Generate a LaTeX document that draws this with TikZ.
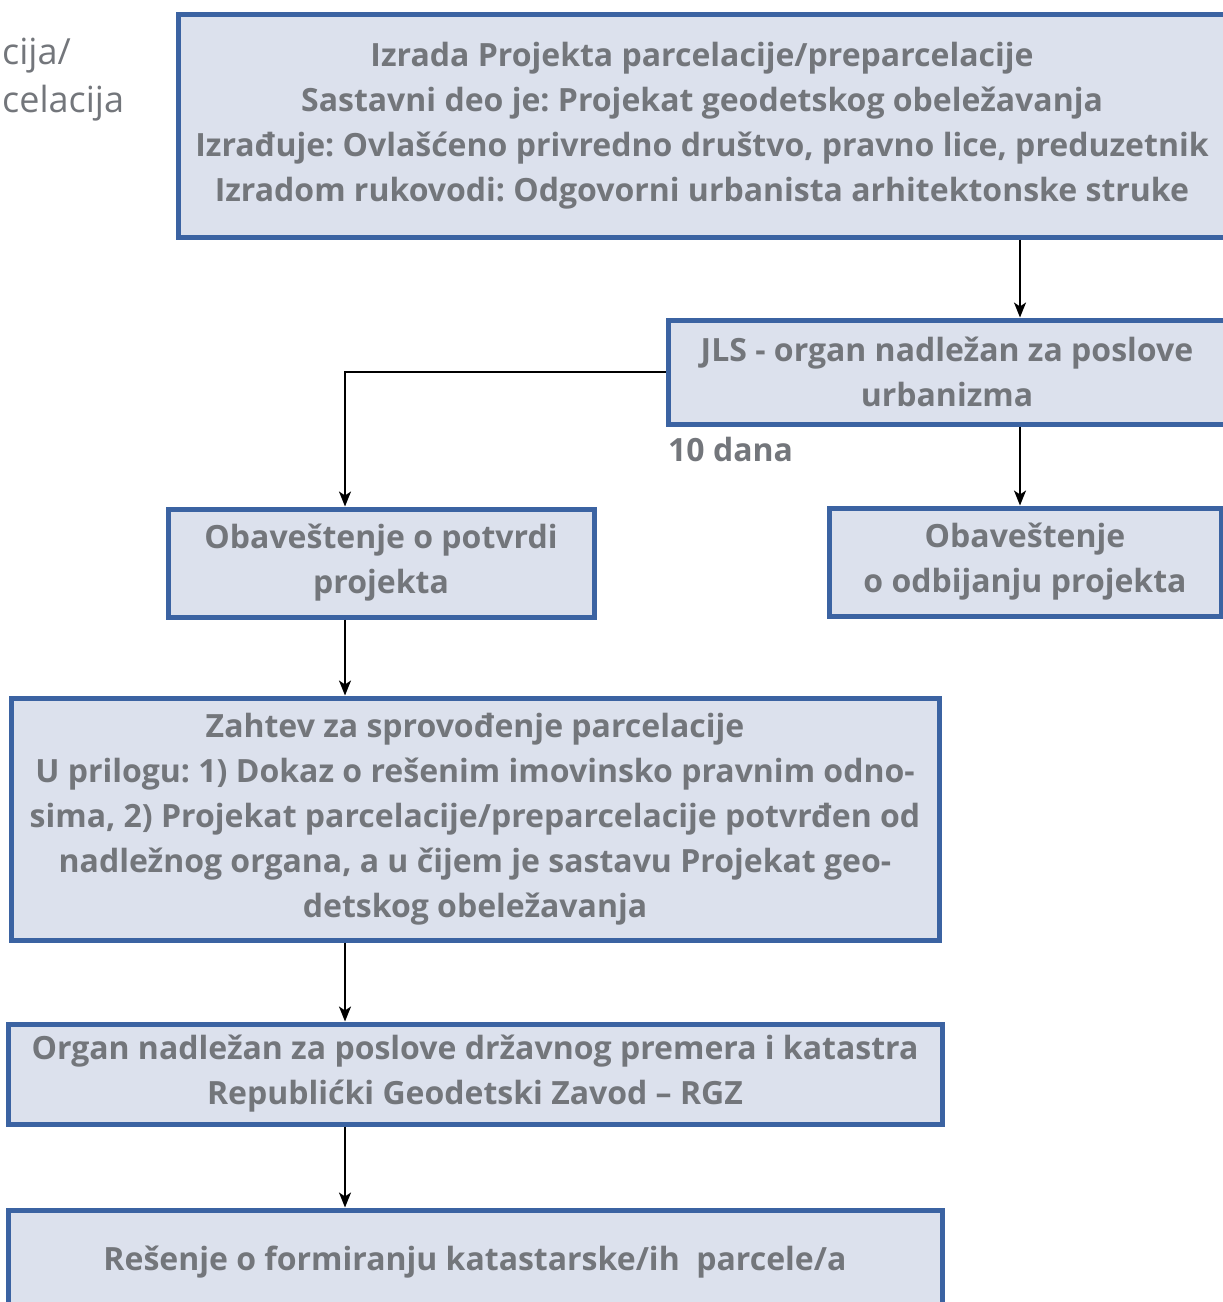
\documentclass[tikz,border=0pt]{standalone}
\usepackage{fontspec}
\setmainfont{Open Sans}
\frenchspacing
\usetikzlibrary{arrows.meta,positioning}
\definecolor{boxblue}{HTML}{3B63A2}
\definecolor{boxfill}{HTML}{DCE1ED}
\definecolor{textgray}{HTML}{73767B}
\newcommand{\boxfont}{\fontsize{32}{45}\selectfont\bfseries}
\tikzset{
  stepbox/.style={draw=boxblue,line width=5pt,fill=boxfill,text=textgray,
    font=\boxfont,align=center,inner sep=0pt},
  flowarrow/.style={-{Stealth[length=15pt,width=12pt,inset=4pt]},line width=2pt},
  flowline/.style={line width=2pt}
}

\begin{document}
\begin{tikzpicture}[x=1pt,y=1pt]
  \useasboundingbox (0,0) rectangle (1223,-1302);
  \clip (0,0) rectangle (1223,-1302);
  \node[text=textgray,font=\fontsize{36}{48}\selectfont,align=left,
        anchor=west,inner sep=0pt] (prev) at (2,-80) {cija/\\celacija};
  \node[stepbox,minimum width=1048pt,minimum height=223pt] (plan) at (702,-125.5)
    {Izrada Projekta parcelacije/preparcelacije\\
     Sastavni deo je: Projekat geodetskog obeležavanja\\
     Izrađuje: Ovlašćeno privredno društvo, pravno lice, preduzetnik\\
     Izradom rukovodi: Odgovorni urbanista arhitektonske struke};
  \node[stepbox,minimum width=558pt,minimum height=104pt] (jls) at (947,-372)
    {JLS - organ nadležan za poslove\\urbanizma};
  \node[text=textgray,font=\boxfont,anchor=west,inner sep=0pt] (rok) at (668,-449)
    {10 dana};
  \node[stepbox,minimum width=426pt,minimum height=108pt] (potvrda) at (381,-563)
    {Obaveštenje o potvrdi\\projekta};
  \node[stepbox,minimum width=392pt,minimum height=108pt] (odbij) at (1025,-562)
    {Obaveštenje\\o odbijanju projekta};
  \node[stepbox,minimum width=928pt,minimum height=242pt] (zahtev) at (475,-819)
    {Zahtev za sprovođenje parcelacije\\
     U prilogu: 1) Dokaz o rešenim imovinsko pravnim odno-\\
     sima, 2) Projekat parcelacije/preparcelacije potvrđen od\\
     nadležnog organa, a u čijem je sastavu Projekat geo-\\
     detskog obeležavanja};
  \node[stepbox,minimum width=934pt,minimum height=100pt] (organ) at (475,-1074)
    {Organ nadležan za poslove državnog premera i katastra\\
     Republićki Geodetski Zavod – RGZ};
  \node[stepbox,minimum width=934pt,minimum height=104pt] (resenje) at (475,-1262)
    {Rešenje o formiranju katastarske/ih\ \ parcele/a};
  \coordinate (leftcol) at (345,0);
  \coordinate (rightcol) at (1020,0);
  % connectors
  \draw[flowarrow] (plan.south -| rightcol) -- (jls.north -| rightcol);
  \draw[flowarrow] (jls.south -| rightcol) -- (odbij.north -| rightcol);
  \draw[flowarrow] (jls.west) -| (potvrda.north -| leftcol);
  \draw[flowarrow] (potvrda.south -| leftcol) -- (zahtev.north -| leftcol);
  \draw[flowarrow] (zahtev.south -| leftcol) -- (organ.north -| leftcol);
  \draw[flowarrow] (organ.south -| leftcol) -- (resenje.north -| leftcol);
\end{tikzpicture}
\end{document}
